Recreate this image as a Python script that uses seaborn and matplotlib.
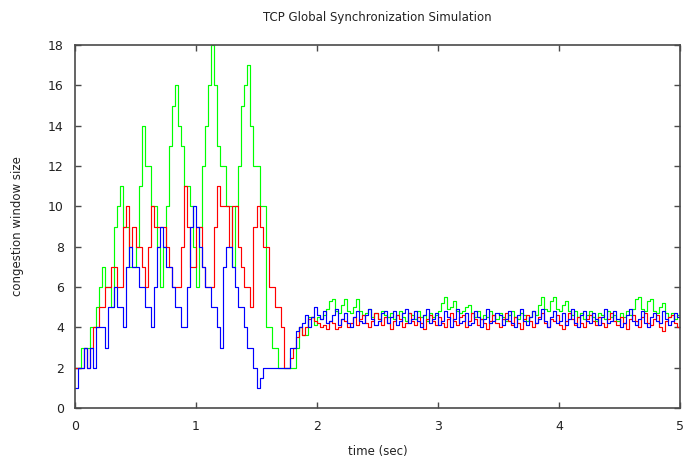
import numpy as np
import pandas as pd
import matplotlib
matplotlib.use("Agg")
import matplotlib.pyplot as plt
import seaborn as sns

# ---------------- data ----------------
DT = 0.025  # sampling step of the traces (sec)
flows = ["flow 1", "flow 2", "flow 3"]
flow_colors = ["#00ff00", "#ff0000", "#0000ff"]

green_cwnd = [
    2, 2, 3, 3, 3, 4, 4, 5, 6, 7, 6, 6, 5, 9, 10, 11, 9, 9, 7, 7, 8,
    11, 14, 12, 12, 10, 10, 8, 6, 8, 10, 13, 15, 16, 14, 13, 11, 11, 10, 8, 6,
    9, 12, 14, 16, 18, 16, 13, 12, 12, 10, 10, 7, 10, 12, 15, 16, 17, 14, 12, 12,
    10, 10, 4, 4, 3, 3, 2, 2, 2, 2, 2, 2, 3, 4, 3.6, 3.6, 4.5, 4.5, 4.1, 4.5,
    4.4, 4.6, 4.9, 5.3, 5.4, 4.8, 4.7, 5.1, 5.4, 4.8, 4.7, 5.0, 5.4, 4.8, 4.6, 4.7,
    4.9, 4.5, 4.7, 4.4, 4.8, 4.6, 4.5, 4.7, 4.4, 4.6, 4.8, 4.5, 4.3, 4.7, 4.6, 4.4,
    4.8, 4.5, 4.6, 4.3, 4.7, 4.5, 4.6, 4.8, 5.2, 5.5, 4.9, 5.0, 5.3, 4.8, 4.7, 4.8,
    5.0, 5.1, 4.7, 4.5, 4.8, 4.4, 4.6, 4.5, 4.8, 4.6, 4.4, 4.7, 4.5, 4.3, 4.6, 4.8,
    4.5, 4.4, 4.7, 4.6, 4.3, 4.5, 4.8, 4.6, 5.1, 5.5, 4.9, 4.8, 5.3, 5.5, 4.9, 4.8,
    5.1, 5.3, 4.8, 4.6, 4.8, 4.5, 4.7, 4.4, 4.6, 4.8, 4.5, 4.3, 4.7, 4.6, 4.4, 4.8,
    4.5, 4.6, 4.3, 4.7, 4.5, 4.8, 4.6, 4.9, 5.4, 5.5, 4.9, 4.8, 5.3, 5.4, 4.8, 4.7,
    5.0, 5.2, 4.7, 4.5, 4.7, 4.4, 4.6, 4.8,
]

red_cwnd = [
    2, 2, 2, 3, 2, 3, 4, 4, 5, 5, 6, 6, 7, 7, 6, 6, 9, 10, 8, 9, 8,
    8, 7, 6, 8, 10, 9, 9, 9, 9, 8, 7, 6, 6, 6, 8, 11, 9, 7, 7, 9,
    9, 7, 6, 6, 6, 9, 11, 10, 10, 10, 8, 10, 10, 8, 7, 6, 6, 5, 9, 10,
    9, 8, 8, 6, 6, 5, 5, 4, 2, 2, 2.5, 3, 3.5, 4, 3.6, 4, 4.4, 4.5, 4.3, 4.2,
    4.0, 4.1, 3.9, 4.3, 4.2, 3.9, 4.0, 4.4, 4.3, 4.0, 4.2, 4.5, 4.1, 4.4, 4.6, 4.2,
    4.0, 4.3, 4.7, 4.4, 4.1, 4.5, 4.2, 3.9, 4.3, 4.6, 4.4, 4.0, 4.2, 4.7, 4.3, 4.1,
    4.5, 4.2, 3.9, 4.4, 4.6, 4.3, 4.1, 4.5, 4.2, 4.0, 4.4, 4.7, 4.3, 4.1, 4.5, 4.6,
    4.0, 4.3, 4.7, 4.4, 4.1, 4.4, 4.2, 3.9, 4.3, 4.6, 4.2, 4.0, 4.4, 4.7, 4.3, 4.1,
    4.5, 4.2, 3.9, 4.4, 4.6, 4.3, 4.0, 4.2, 4.5, 4.7, 4.2, 4.0, 4.4, 4.3, 4.6, 4.1,
    3.9, 4.3, 4.7, 4.4, 4.1, 4.5, 4.2, 4.0, 4.4, 4.6, 4.3, 4.1, 4.5, 4.2, 4.0, 4.4,
    4.7, 4.3, 4.1, 4.5, 4.2, 3.9, 4.4, 4.6, 4.3, 4.0, 4.5, 4.7, 4.2, 4.1, 4.4, 4.6,
    4.0, 3.8, 4.3, 4.5, 4.6, 4.2, 4.0, 4.3,
]

blue_cwnd = [
    1, 2, 2, 3, 2, 3, 2, 4, 4, 4, 3, 5, 5, 6, 5, 5, 4, 7, 8, 7, 7,
    6, 6, 5, 5, 4, 6, 8, 9, 8, 7, 7, 6, 5, 5, 4, 4, 6, 9, 10, 9,
    8, 7, 6, 6, 5, 5, 4, 3, 7, 8, 8, 7, 6, 5, 5, 4, 3, 3, 2, 1,
    1.5, 2, 2, 2, 2, 2, 2, 2, 2, 2, 3, 3, 3.8, 4, 4.2, 4.6, 4, 4.5, 5, 4.6,
    4.4, 4.8, 4.2, 4.3, 4.6, 4.9, 4.1, 4.4, 4.7, 4.2, 4.0, 4.5, 4.8, 4.3, 4.2, 4.6,
    4.9, 4.4, 4.1, 4.3, 4.7, 4.8, 4.2, 4.5, 4.8, 4.1, 4.3, 4.7, 4.9, 4.2, 4.4, 4.8,
    4.3, 4.0, 4.6, 4.9, 4.2, 4.4, 4.7, 4.1, 4.3, 4.8, 4.5, 4.0, 4.4, 4.9, 4.2, 4.3,
    4.7, 4.1, 4.2, 4.8, 4.5, 4.0, 4.4, 4.9, 4.2, 4.3, 4.7, 4.6, 4.1, 4.4, 4.8, 4.2,
    4.0, 4.6, 4.9, 4.3, 4.1, 4.5, 4.8, 4.2, 4.4, 4.9, 4.3, 4.0, 4.5, 4.8, 4.2, 4.3,
    4.7, 4.1, 4.4, 4.9, 4.2, 4.0, 4.6, 4.8, 4.3, 4.2, 4.7, 4.4, 4.1, 4.5, 4.9, 4.2,
    4.3, 4.8, 4.4, 4.0, 4.2, 4.6, 4.9, 4.3, 4.1, 4.4, 4.8, 4.2, 4.0, 4.5, 4.7, 4.3,
    4.2, 4.8, 4.4, 4.1, 4.3, 4.7, 4.5, 4.2,
]

x_ticks = [0, 1, 2, 3, 4, 5]
y_ticks = [0, 2, 4, 6, 8, 10, 12, 14, 16, 18]

title_text = "TCP Global Synchronization Simulation"
x_label = "time (sec)"
y_label = "congestion window size"

# ---------------- long-form table ----------------
rows = []
for name, vals in zip(flows, [green_cwnd, red_cwnd, blue_cwnd]):
    for i, v in enumerate(vals):
        rows.append((i * DT, v, name))
df = pd.DataFrame(rows, columns=["time", "cwnd", "flow"])

# ---------------- figure ----------------
sns.set_style("white")
plt.rcParams["font.family"] = ["DejaVu Sans"]

W, H = 688, 462
fig = plt.figure(figsize=(W / 100, H / 100), dpi=100)
L, R, T, B = 75, 680, 45, 408
ax = fig.add_axes([L / W, 1 - B / H, (R - L) / W, (B - T) / H])

sns.lineplot(
    data=df, x="time", y="cwnd", hue="flow", hue_order=flows,
    palette=dict(zip(flows, flow_colors)), estimator=None, sort=False,
    drawstyle="steps-post", linewidth=0.85, legend=False, ax=ax,
)

ax.set_xlim(0, 5)
ax.set_ylim(0, 18)
ax.set_xticks(x_ticks)
ax.set_yticks(y_ticks)
ax.set_xticklabels([str(v) for v in x_ticks])
ax.set_yticklabels([str(v) for v in y_ticks])
ax.set_xlabel("")
ax.set_ylabel("")

spine_color = "#4a4a4a"
for s in ax.spines.values():
    s.set_visible(True)
    s.set_color(spine_color)
    s.set_linewidth(1.2)

ax.tick_params(axis="both", which="both", direction="in", length=4, width=1,
               color=spine_color, labelsize=9, labelcolor="#222222",
               top=True, right=True, bottom=True, left=True,
               labeltop=False, labelright=False)
ax.tick_params(axis="x", pad=9)
ax.tick_params(axis="y", pad=8)

cx = (L + R) / 2 / W
fig.text(cx, 1 - 17 / H, title_text, ha="center", va="center",
         fontsize=8.5, color="#222222")
fig.text(cx, 1 - 452 / H, x_label, ha="center", va="center",
         fontsize=8.5, color="#222222")
fig.text(18 / W, 1 - ((T + B) / 2) / H, y_label, ha="center", va="center",
         rotation=90, fontsize=8.5, color="#222222")

fig.savefig("out.png", dpi=100, facecolor="white")
